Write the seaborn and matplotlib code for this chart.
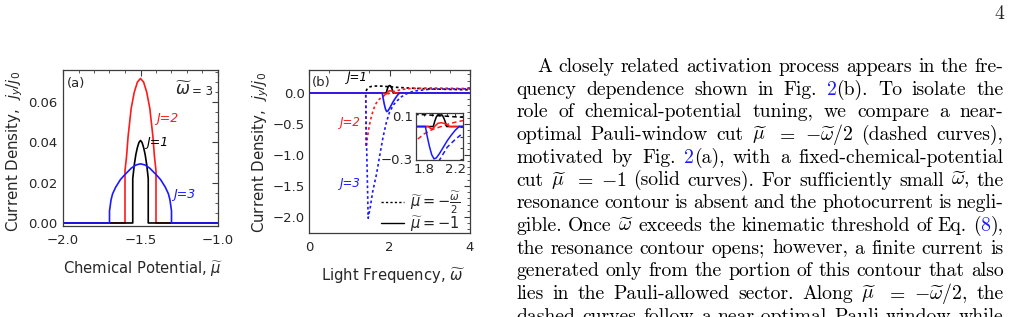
import matplotlib
matplotlib.use('Agg')
import matplotlib.pyplot as plt
import numpy as np
import pandas as pd
import seaborn as sns
from matplotlib.lines import Line2D
from matplotlib.ticker import MultipleLocator

# ---- panel (a): current vs chemical potential, omega = 3 ----
mu_j1 = [-2.0, -1.55, -1.55, -1.54, -1.53, -1.52, -1.51, -1.50, -1.49, -1.48, -1.47, -1.46, -1.45, -1.45, -1.0]
cur_j1 = [0, 0, 0.022, 0.029, 0.034, 0.0375, 0.040, 0.041, 0.040, 0.0375, 0.034, 0.029, 0.022, 0, 0]

mu_j2 = [-2.0, -1.6, -1.6, -1.59, -1.58, -1.56, -1.54, -1.52, -1.50, -1.48, -1.46, -1.44, -1.42, -1.41, -1.4, -1.4, -1.0]
cur_j2 = [0, 0, 0.026, 0.033, 0.043, 0.057, 0.065, 0.070, 0.0718, 0.070, 0.065, 0.057, 0.043, 0.033, 0.026, 0, 0]

mu_j3 = [-2.0, -1.70, -1.70, -1.69, -1.68, -1.66, -1.63, -1.60, -1.56, -1.53, -1.50,
         -1.47, -1.44, -1.40, -1.37, -1.34, -1.32, -1.31, -1.30, -1.30, -1.0]
cur_j3 = [0, 0, 0.006, 0.0115, 0.0145, 0.0178, 0.0215, 0.0241, 0.0272, 0.0288, 0.0294,
          0.0288, 0.0272, 0.0241, 0.0215, 0.0178, 0.0145, 0.0115, 0.006, 0, 0]

# ---- panel (b): current vs light frequency ----
# dashed: mu = -omega/2
w_dash_j1 = [0, 1.41, 1.43, 1.46, 1.50, 1.55, 1.62, 1.70, 1.80, 2.0, 2.2, 2.5, 3.0, 3.5, 4.0]
c_dash_j1 = [0, 0, 0.05, 0.08, 0.095, 0.105, 0.110, 0.112, 0.110, 0.100, 0.090, 0.078, 0.065, 0.057, 0.050]

w_dash_j2 = [0, 1.41, 1.415, 1.45, 1.50, 1.55, 1.60, 1.65, 1.70, 1.80, 1.90, 2.00, 2.10, 2.20, 2.30, 2.50, 3.0, 3.5, 4.0]
c_dash_j2 = [0, 0, -0.87, -0.72, -0.52, -0.38, -0.27, -0.19, -0.13, -0.07, -0.03, -0.005, 0.02, 0.04, 0.055, 0.07, 0.08, 0.075, 0.07]

w_dash_j3 = [0, 1.41, 1.42, 1.47, 1.52, 1.58, 1.68, 1.76, 1.84, 1.92, 2.0, 2.1, 2.2, 2.3, 2.4, 2.6, 3.0, 3.5, 4.0]
c_dash_j3 = [0, 0, -0.5, -2.02, -1.85, -1.6, -1.3, -1.0, -0.71, -0.48, -0.31, -0.19, -0.12, -0.06, -0.02, 0.03, 0.06, 0.065, 0.065]

# solid: mu = -1
w_sol_j1 = [0, 1.92, 1.94, 1.96, 1.98, 2.00, 2.02, 2.04, 2.06, 2.08, 2.09, 4.0]
c_sol_j1 = [0, 0, 0.05, 0.09, 0.11, 0.12, 0.115, 0.10, 0.07, 0.03, 0, 0]

w_sol_j2 = [0, 1.86, 1.88, 1.90, 1.92, 1.95, 1.98, 2.02, 2.06, 2.10, 2.13, 4.0]
c_sol_j2 = [0, 0, -0.015, -0.02, -0.015, 0.01, 0.03, 0.035, 0.03, 0.015, 0, 0]

w_sol_j3 = [0, 1.82, 1.84, 1.87, 1.90, 1.93, 1.96, 2.00, 2.05, 2.10, 2.15, 2.20, 2.25, 4.0]
c_sol_j3 = [0, 0, -0.08, -0.18, -0.26, -0.30, -0.29, -0.25, -0.19, -0.13, -0.08, -0.035, 0, 0]

a_xticks = [-2.0, -1.5, -1.0]
a_xlabels = ['\u22122.0', '\u22121.5', '\u22121.0']
a_yticks = [0.0, 0.02, 0.04, 0.06]
a_ylabels = ['0.00', '0.02', '0.04', '0.06']
b_xticks = [0, 2, 4]
b_xlabels = ['0', '2', '4']
b_yticks = [0.0, -0.5, -1.0, -1.5, -2.0]
b_ylabels = ['0.0', '\u22120.5', '\u22121.0', '\u22121.5', '\u22122.0']
in_xticks = [1.8, 1.9, 2.0, 2.1, 2.2]
in_xlabels = ['1.8', '', '', '', '2.2']
in_yticks = [0.1, 0.0, -0.1, -0.2, -0.3]
in_ylabels = ['0.1', '', '', '', '\u22120.3']

body_lines = [
    "A closely related activation process appears in the fre-",
    "quency dependence shown in Fig. @2@(b).  To isolate the",
    "role of chemical-potential tuning, we compare a near-",
    r"optimal Pauli-window cut $\widetilde{\mu}$ $=$ $-\widetilde{\omega}/2$ (dashed curves),",
    "motivated by Fig. @2@(a), with a fixed-chemical-potential",
    r"cut $\widetilde{\mu}$ $=$ $-1$ (solid curves).  For sufficiently small $\widetilde{\omega}$, the",
    "resonance contour is absent and the photocurrent is negli-",
    r"gible.  Once $\widetilde{\omega}$ exceeds the kinematic threshold of Eq. (@8@),",
    "the resonance contour opens; however, a finite current is",
    "generated only from the portion of this contour that also",
    r"lies in the Pauli-allowed sector.  Along $\widetilde{\mu}$ $=$ $-\widetilde{\omega}/2$, the",
    "dashed curves follow a near-optimal Pauli window while",
]

RED = '#ff1a1a'
BLUE = '#1a1aff'
FRAME = '#3c3c3c'

sns.set_theme(style='white')
plt.rcParams['font.family'] = ['DejaVu Sans']
plt.rcParams['mathtext.fontset'] = 'dejavusans'

W, H = 1012, 317
fig = plt.figure(figsize=(W / 100, H / 100), dpi=100)


def px_axes(left, top, right, bottom):
    return fig.add_axes([left / W, 1 - bottom / H, (right - left) / W, (bottom - top) / H])


def style_frame(ax, size=9.5, ypad=4):
    for s in ax.spines.values():
        s.set_visible(True)
        s.set_color(FRAME)
        s.set_linewidth(0.9)
    ax.tick_params(which='both', direction='in', top=True, right=True, color=FRAME,
                   labelsize=size)
    ax.tick_params(axis='x', pad=6)
    ax.tick_params(axis='y', pad=ypad)
    ax.tick_params(which='major', length=4, width=0.8)
    ax.tick_params(which='minor', length=2, width=0.6)
    ax.set_xlabel('')
    ax.set_ylabel('')


def curve(ax, x, y, color, ls='-', lw=1.2):
    df = pd.DataFrame({'x': x, 'y': y})
    sns.lineplot(data=df, x='x', y='y', ax=ax, color=color, sort=False,
                 estimator=None, linewidth=lw, linestyle=ls)


# ---------------- panel (a) ----------------
ax_a = px_axes(63, 70, 218, 226)
curve(ax_a, mu_j2, cur_j2, RED)
curve(ax_a, mu_j1, cur_j1, 'black')
curve(ax_a, mu_j3, cur_j3, BLUE)
ax_a.set_xlim(-2.0, -1.0)
ax_a.set_ylim(-0.0015, 0.076)
style_frame(ax_a)
ax_a.set_xticks(a_xticks, a_xlabels)
ax_a.set_yticks(a_yticks, a_ylabels)
ax_a.xaxis.set_minor_locator(MultipleLocator(0.1))
ax_a.yaxis.set_minor_locator(MultipleLocator(0.005))
ax_a.text(-1.975, 0.0695, '(a)', fontsize=9.5, va='center')
ax_a.text(-1.275, 0.0662, r'$\widetilde{\omega}$', fontsize=12, va='center')
ax_a.text(-1.17, 0.0655, '= 3', fontsize=8.5, va='center')
ax_a.text(-1.397, 0.052, 'J=2', color=RED, fontsize=9, style='italic', va='center')
ax_a.text(-1.465, 0.040, 'J=1', color='black', fontsize=9, style='italic', va='center')
ax_a.text(-1.29, 0.014, 'J=3', color=BLUE, fontsize=9, style='italic', va='center')
fig.text(143 / W, 1 - 269 / H, r'Chemical Potential, $\widetilde{\mu}$', fontsize=10.6,
         ha='center', va='center')
fig.text(15 / W, 1 - 151 / H, r'Current Density,  $j_y/j_0$', fontsize=10.8,
         ha='center', va='center', rotation=90)

# ---------------- panel (b) ----------------
DOT = (0, (1.6, 1.6))
ax_b = px_axes(309, 70, 470, 232.5)
curve(ax_b, w_dash_j1, c_dash_j1, 'black', DOT)
curve(ax_b, w_dash_j2, c_dash_j2, RED, DOT)
curve(ax_b, w_dash_j3, c_dash_j3, BLUE, DOT)
curve(ax_b, w_sol_j1, c_sol_j1, 'black')
curve(ax_b, w_sol_j2, c_sol_j2, RED)
curve(ax_b, w_sol_j3, c_sol_j3, BLUE)
ax_b.set_xlim(0, 4)
ax_b.set_ylim(-2.25, 0.37)
style_frame(ax_b, ypad=3)
ax_b.set_xticks(b_xticks, b_xlabels)
ax_b.set_yticks(b_yticks, b_ylabels)
ax_b.xaxis.set_minor_locator(MultipleLocator(0.5))
ax_b.yaxis.set_minor_locator(MultipleLocator(0.1))
ax_b.text(0.07, 0.17, '(b)', fontsize=9.5, va='center')
ax_b.text(0.93, 0.25, 'J=1', color='black', fontsize=8.5, style='italic', va='center')
ax_b.text(0.76, -0.47, 'J=2', color=RED, fontsize=8.5, style='italic', va='center')
ax_b.text(0.76, -1.46, 'J=3', color=BLUE, fontsize=8.5, style='italic', va='center')
handles = [Line2D([], [], color='black', lw=1.0, ls=DOT), Line2D([], [], color='black', lw=1.0)]
ax_b.legend(handles, [r'$\widetilde{\mu}=-\frac{\widetilde{\omega}}{2}$', r'$\widetilde{\mu}=-1$'],
            loc='lower right', bbox_to_anchor=(1.0, -0.06), frameon=False, fontsize=10.5,
            handlelength=1.6, handletextpad=0.4, labelspacing=-0.1, borderpad=0.1)
fig.text(393 / W, 1 - 276 / H, r'Light Frequency, $\widetilde{\omega}$', fontsize=10.6,
         ha='center', va='center')
fig.text(261 / W, 1 - 152 / H, r'Current Density,  $j_y/j_0$', fontsize=10.8,
         ha='center', va='center', rotation=90)

# inset
DASH = (0, (3, 2))
ax_in = px_axes(416, 112.5, 463, 160)
curve(ax_in, w_dash_j1, c_dash_j1, 'black', DASH, 1.1)
curve(ax_in, w_dash_j2, c_dash_j2, RED, DASH, 1.1)
curve(ax_in, w_dash_j3, c_dash_j3, BLUE, DASH, 1.1)
curve(ax_in, w_sol_j1, c_sol_j1, 'black', '-', 1.1)
curve(ax_in, w_sol_j2, c_sol_j2, RED, '-', 1.1)
curve(ax_in, w_sol_j3, c_sol_j3, BLUE, '-', 1.1)
ax_in.set_xlim(1.7, 2.3)
ax_in.set_ylim(-0.31, 0.13)
ax_in.set_facecolor('white')
style_frame(ax_in)
ax_in.tick_params(which='major', length=2.5)
ax_in.set_xticks(in_xticks, in_xlabels)
ax_in.set_yticks(in_yticks, in_ylabels)
ax_in.tick_params(pad=2)

# ---------------- body text ----------------
fig.canvas.draw()
renderer = fig.canvas.get_renderer()
body_size = 14.2
col_left, col_right, indent = 516.5, 1003.5, 537
link_blue = '#1a1aff'

for i, line in enumerate(body_lines):
    base = 1 - (72 + 22.7 * i) / H
    words = []
    for w in line.split():
        segs = []
        for k, s in enumerate(w.split('@')):
            if s == '':
                continue
            t = fig.text(0, base, s, fontsize=body_size, family='cmr10', math_fontfamily='cm',
                         color=link_blue if k % 2 else 'black', va='baseline', ha='left')
            segs.append((t, t.get_window_extent(renderer).width))
        words.append(segs)
    start = indent if i == 0 else col_left
    total = sum(wd for segs in words for _, wd in segs)
    gap = (col_right - start - total) / (len(words) - 1)
    x = start
    for segs in words:
        for t, wd in segs:
            t.set_x(x / W)
            x += wd
        x += gap

fig.text(1004 / W, 1 - 19 / H, '4', fontsize=body_size, family='cmr10', ha='right', va='baseline')

fig.savefig('out.png', dpi=100)
